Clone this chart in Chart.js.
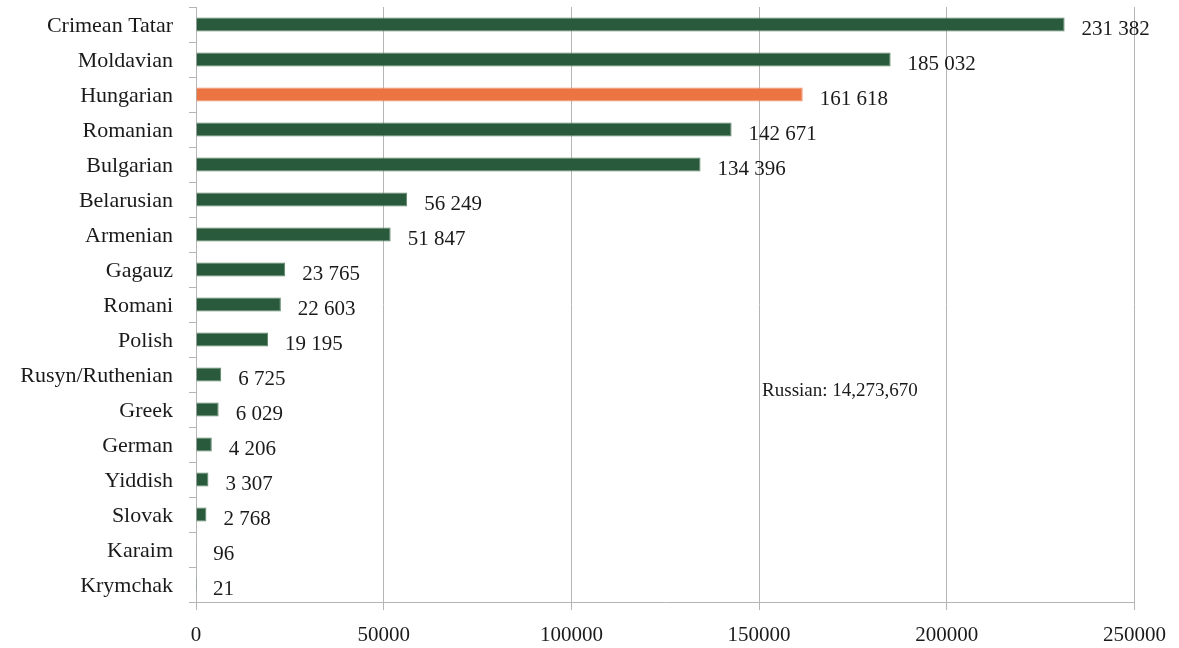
<!DOCTYPE html>
<html>
<head>
<meta charset="utf-8">
<script src="https://cdn.jsdelivr.net/npm/chart.js@4"></script>
<style>
  body { margin: 0; background: #fff; }
</style>
</head>
<body>
<canvas id="chart" width="1179" height="648"></canvas>
<script>
const languages = ['Crimean Tatar', 'Moldavian', 'Hungarian', 'Romanian', 'Bulgarian', 'Belarusian',
  'Armenian', 'Gagauz', 'Romani', 'Polish', 'Rusyn/Ruthenian', 'Greek', 'German', 'Yiddish',
  'Slovak', 'Karaim', 'Krymchak'];
const speakers = [231382, 185032, 161618, 142671, 134396, 56249, 51847, 23765, 22603, 19195,
  6725, 6029, 4206, 3307, 2768, 96, 21];
const highlighted = 'Hungarian';
const russianNote = 'Russian: 14,273,670';
const xTicks = [0, 50000, 100000, 150000, 200000, 250000];

const GREEN = '#285a3b';
const ORANGE = '#ec7443';
const GRID = '#b5b5b5';
const SERIF = '"Liberation Serif", "Times New Roman", serif';

// 231382 -> "231 382"
function spaced(n) {
  return String(n).replace(/\B(?=(\d{3})+(?!\d))/g, ' ');
}

const valueLabels = {
  id: 'valueLabels',
  afterDatasetsDraw(chart) {
    const ctx = chart.ctx;
    const meta = chart.getDatasetMeta(0);
    ctx.save();
    ctx.font = '21px ' + SERIF;
    ctx.fillStyle = '#1a1a1a';
    ctx.textAlign = 'left';
    ctx.textBaseline = 'middle';
    meta.data.forEach((bar, i) => {
      ctx.fillText(spaced(speakers[i]), bar.x + 17, bar.y + 5);
    });
    ctx.restore();
  }
};

const note = {
  id: 'note',
  afterDatasetsDraw(chart) {
    const ctx = chart.ctx;
    const x = chart.scales.x.getPixelForValue(150000) + 3;
    const y = (chart.scales.y.getPixelForValue(10) + chart.scales.y.getPixelForValue(11)) / 2 - 1;
    ctx.save();
    ctx.font = '19px ' + SERIF;
    ctx.fillStyle = '#1a1a1a';
    ctx.textBaseline = 'middle';
    ctx.fillText(russianNote, x, y);
    ctx.restore();
  }
};

new Chart(document.getElementById('chart'), {
  type: 'bar',
  data: {
    labels: languages,
    datasets: [{
      data: speakers,
      backgroundColor: languages.map(l => l === highlighted ? ORANGE : GREEN),
      borderColor: languages.map(l => l === highlighted ? '#f09070' : '#5d8569'),
      borderWidth: 1,
      barPercentage: 0.4,
      categoryPercentage: 1
    }]
  },
  options: {
    indexAxis: 'y',
    responsive: false,
    animation: false,
    layout: { padding: { top: 7, right: 44, bottom: 0, left: 0 } },
    plugins: {
      legend: { display: false },
      tooltip: { enabled: false }
    },
    scales: {
      x: {
        min: 0,
        max: 250000,
        afterBuildTicks: scale => { scale.ticks = xTicks.map(v => ({ value: v })); },
        afterFit: scale => { scale.height = 46; },
        grid: { color: GRID, tickLength: 8 },
        border: { color: GRID },
        ticks: {
          font: { family: SERIF, size: 21 },
          color: '#1a1a1a',
          padding: 13,
          maxRotation: 0,
          callback: v => String(v)
        }
      },
      y: {
        afterFit: scale => {
          scale.width = 196;
          scale.paddingTop = 0;
          scale.paddingBottom = 0;
        },
        grid: { drawOnChartArea: false, color: GRID, tickLength: 7 },
        border: { color: GRID },
        ticks: {
          font: { family: SERIF, size: 22 },
          color: '#1a1a1a',
          padding: 16,
          labelOffset: 2
        }
      }
    }
  },
  plugins: [valueLabels, note]
});
</script>
</body>
</html>
